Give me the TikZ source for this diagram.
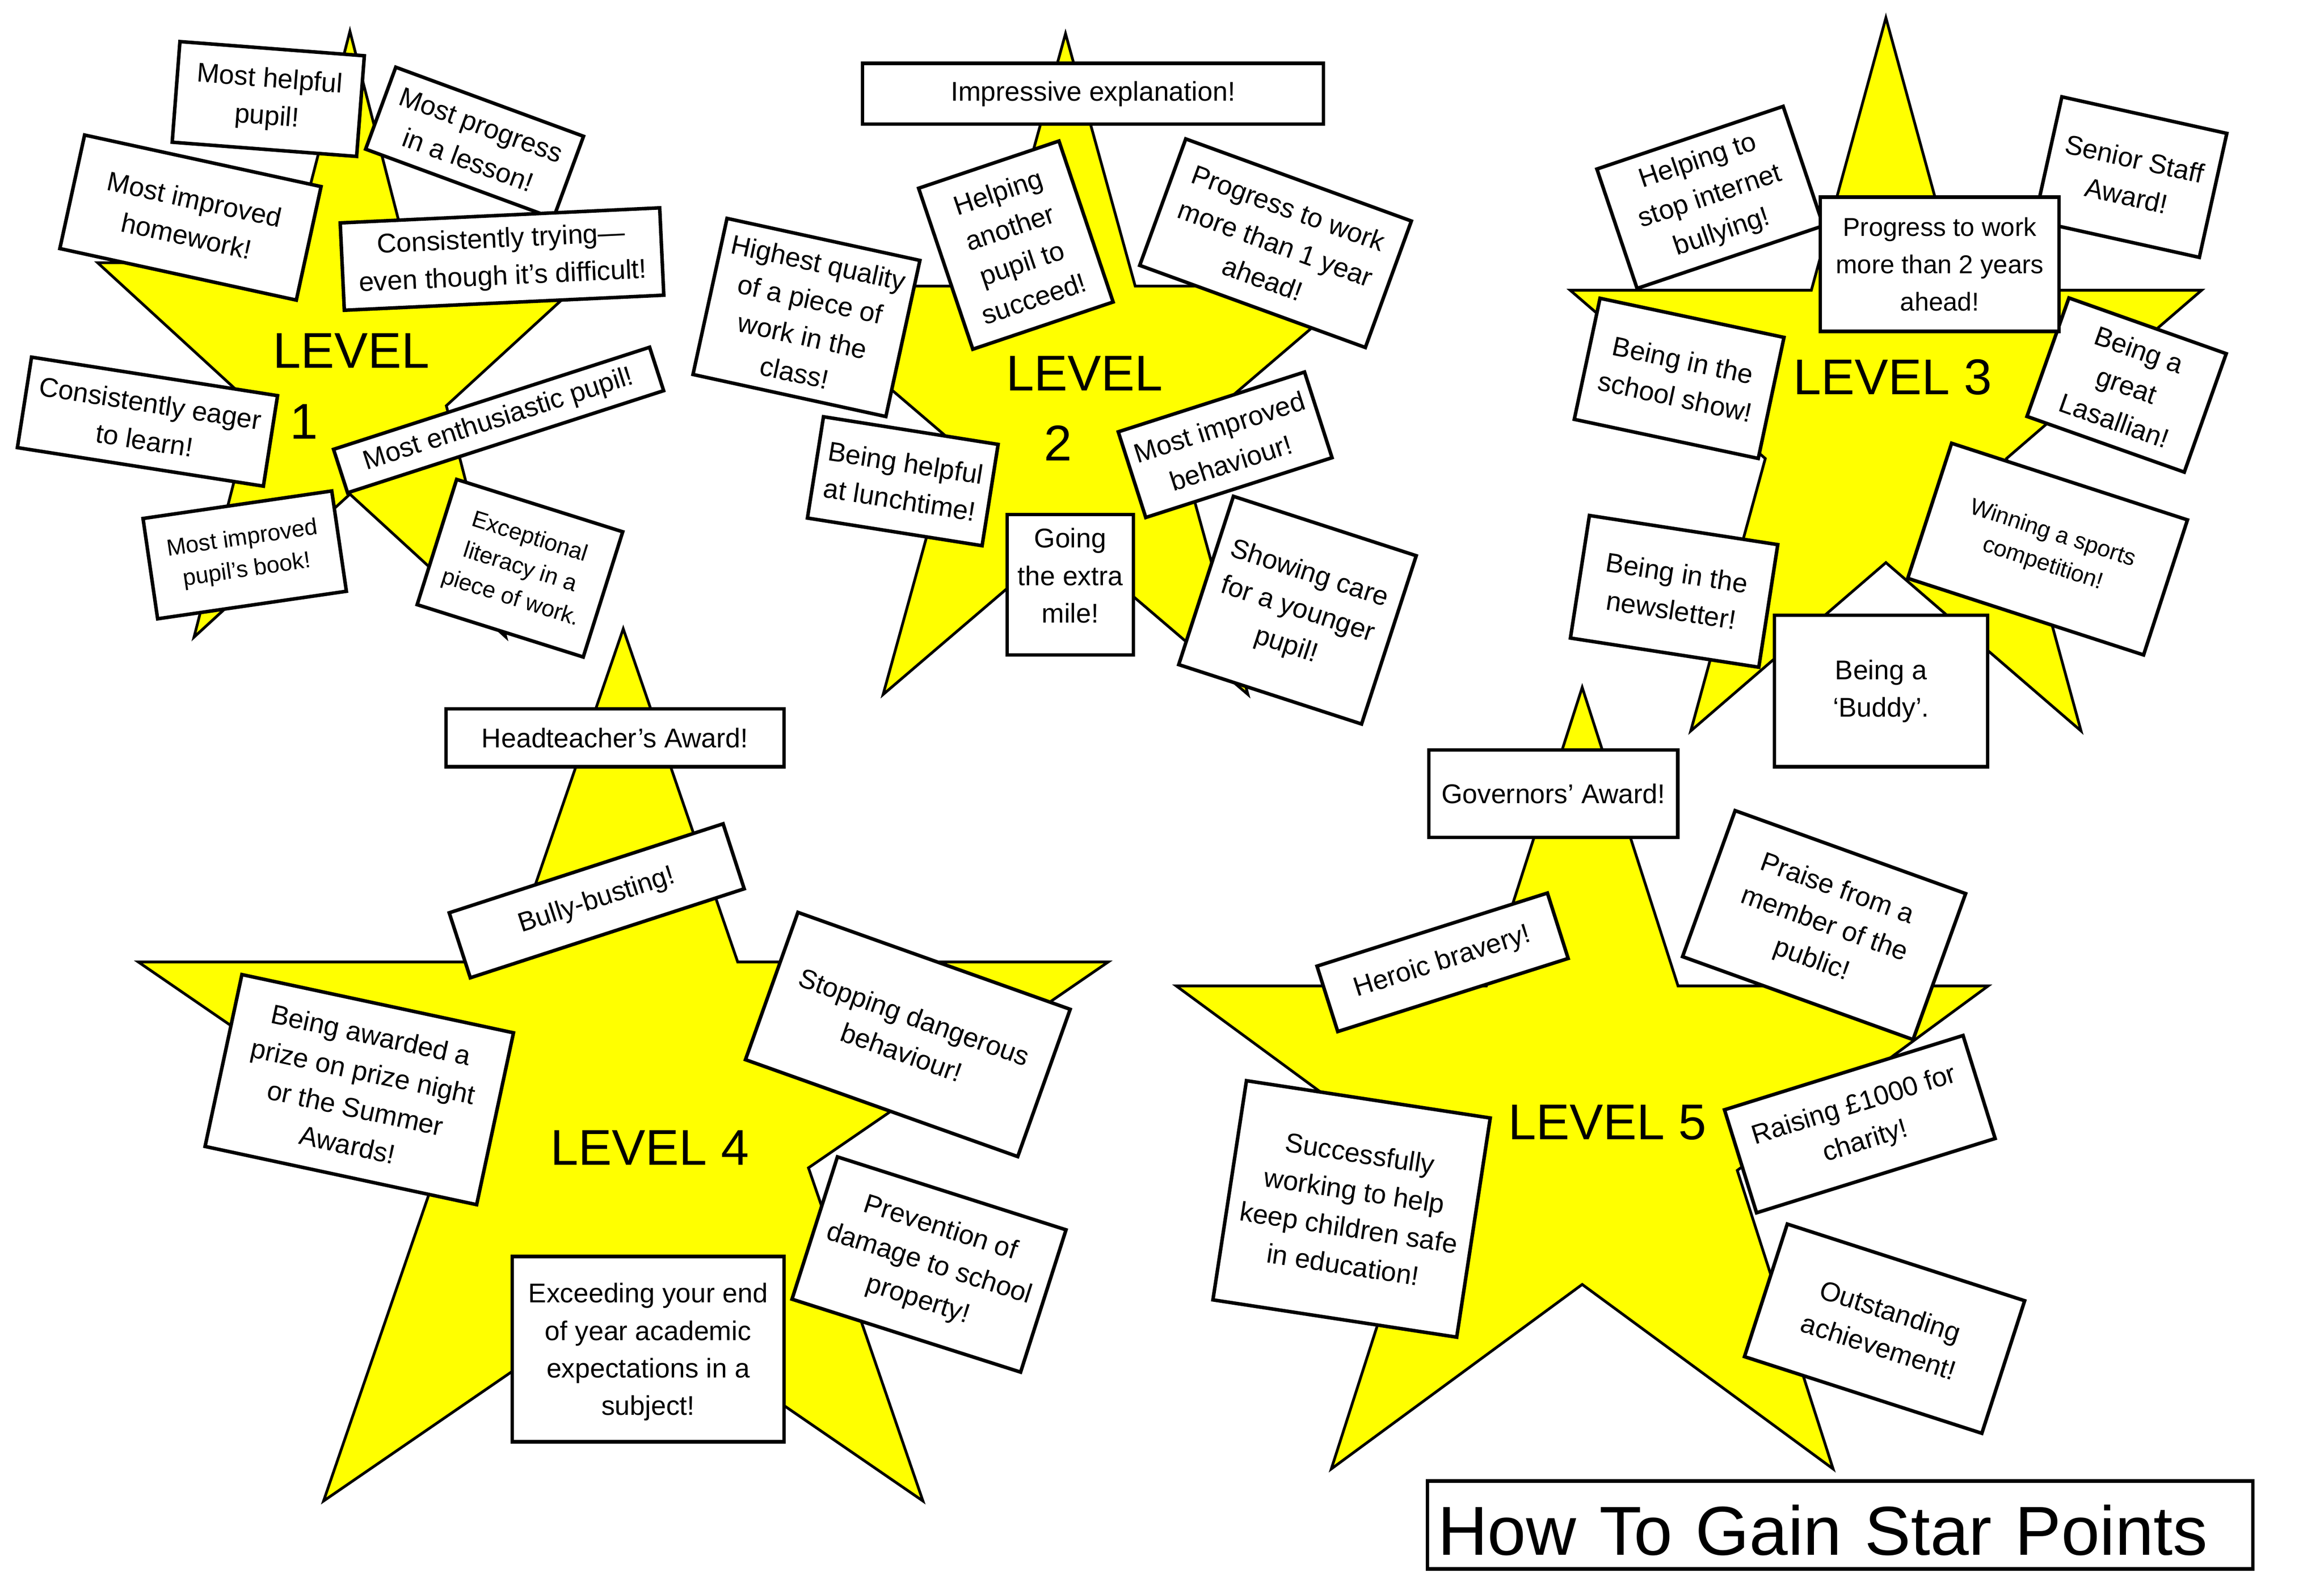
\documentclass[tikz,border=0pt]{standalone}
\usepackage{fontspec}
\setmainfont{Liberation Sans}
\definecolor{starY}{RGB}{255,255,0}
\newcommand{\bxfont}{\fontsize{10.4}{14.4}\selectfont}
\newcommand{\sbxfont}{\fontsize{8.9}{12.2}\selectfont}
\newcommand{\lvfont}{\fontsize{19.3}{23}\selectfont}
\newcommand{\ttlfont}{\fontsize{26.6}{30}\selectfont}
\newcommand{\mystar}[4]{%
  \draw[starshape, shift={(#1,#2)}, xscale=#3, yscale=-#4]
    (0,1) -- (-0.2245,0.3090) -- (-0.9511,0.3090) -- (-0.3633,-0.1180)
    -- (-0.5878,-0.8090) -- (0,-0.382) -- (0.5878,-0.8090) -- (0.3633,-0.1180)
    -- (0.9511,0.3090) -- (0.2245,0.3090) -- cycle;}
\tikzset{
  starshape/.style={fill=starY, draw=black, line width=1.05pt},
  box/.style={draw=black, fill=white, line width=1.35pt, align=center, inner sep=0pt, font=\bxfont},
  smallbox/.style={box, font=\sbxfont},
  sz/.style 2 args={minimum width=#1*0.02cm, minimum height=#2*0.02cm},
  lvl/.style={font=\lvfont, inner sep=0pt},
}
\begin{document}
\begin{tikzpicture}[x=0.02cm, y=-0.02cm]
\fill[white] (0,0) rectangle (1568,1075.5);
\useasboundingbox (0,0) rectangle (1568,1075.5);
% stars
\mystar{236.1}{247.1}{179}{226}
\mystar{718.9}{269.2}{209.4}{246.5}
\mystar{1272.4}{278}{224}{266}
\mystar{420.5}{749.6}{344}{325.3}
\mystar{1067.5}{755.3}{288}{291.5}
% level 1
\node[box, sz={124.8}{68.1}, rotate=-4.4] (a1) at (181.0,66.8) {Most helpful\\pupil!};
\node[box, sz={135}{58.9}, rotate=-20.2] (a2) at (320.2,96.3) {Most progress\\in a lesson!};
\node[box, sz={163.3}{78.4}, rotate=-12.3] (a3) at (128.5,146.8) {Most improved\\homework!};
\node[box, sz={215.8}{59}, rotate=2.7] (a4) at (338.7,174.8) {Consistently trying—\\even though it’s difficult!};
\node[box, sz={168}{61.8}, rotate=-8.9] (a5) at (99.5,284.5) {Consistently eager\\to learn!};
\node[box, sz={224.1}{30.8}, rotate=17.9] (a6) at (336.4,283.4) {Most enthusiastic pupil!};
\node[smallbox, sz={128.7}{68.4}, rotate=8.3] (a7) at (165.1,374.4) {Most improved\\pupil’s book!};
\node[smallbox, sz={117.5}{88.6}, rotate=-17.5] (a8) at (350.8,383.4) {Exceptional\\literacy in a\\piece of work.};
\node[lvl] (l1a) at (236.9,236.6) {LEVEL};
\node[lvl] (l1b) at (205.1,284.5) {1};
% level 2
\node[box, sz={311}{41}] (b1) at (737.5,63.3) {Impressive explanation!};
\node[box, sz={99.9}{114.6}, rotate=18.6] (b2) at (685.4,165.4) {Helping\\another\\pupil to\\succeed!};
\node[box, sz={133.2}{107.8}, rotate=-12.3] (b3) at (544.1,214.2) {Highest quality\\of a piece of\\work in the\\class!};
\node[box, sz={162}{90.8}, rotate=-20] (b4) at (860.6,164.1) {Progress to work\\more than 1 year\\ahead!};
\node[box, sz={119.3}{69.2}, rotate=-9] (b5) at (609.1,324.7) {Being helpful\\at lunchtime!};
\node[box, sz={132}{60.7}, rotate=17.8] (b6) at (826.6,300.1) {Most improved\\behaviour!};
\node[box, sz={85.1}{94.8}, text depth=7pt] (b7) at (722.1,394.5) {Going\\the extra\\mile!};
\node[box, sz={129.7}{119.4}, rotate=-18] (b8) at (875.4,411.7) {Showing care\\for a younger\\pupil!};
\node[lvl] (l2a) at (731.8,252) {LEVEL};
\node[lvl] (l2b) at (713.8,299) {2};
% level 3
\node[box, sz={132.6}{85}, rotate=18.6] (c1) at (1153.8,133.2) {Helping to\\stop internet\\bullying!};
\node[box, sz={114}{85.7}, rotate=-12.5] (c3) at (1437.5,119.5) {Senior Staff\\Award!};
\node[box, sz={112.6}{84.8}, rotate=-19.5] (c5) at (1434.8,259.8) {Being a\\great\\Lasallian!};
\node[box, sz={161.1}{90.6}, font={\fontsize{9.9}{14.4}\selectfont}] (c2) at (1308.7,178.3) {Progress to work\\more than 2 years\\ahead!};
\node[box, sz={126.9}{83.5}, rotate=-12] (c4) at (1132.9,255.3) {Being in the\\school show!};
\node[box, sz={128.6}{83.7}, rotate=-8.8] (c6) at (1129.5,399) {Being in the\\newsletter!};
\node[smallbox, sz={167.3}{95.8}, rotate=-18] (c7) at (1381.5,370.5) {Winning a sports\\competition!};
\node[box, sz={143.9}{102.2}] (c8) at (1269.1,466.3) {Being a\\‘Buddy’.};
\node[lvl] (l3) at (1277,254.4) {LEVEL 3};
% level 4
\node[box, sz={228}{39.1}] (d1) at (414.9,497.8) {Headteacher’s Award!};
\node[box, sz={194.3}{46.1}, rotate=18] (d2) at (402.6,607.8) {Bully-busting!};
\node[box, sz={187.4}{118.6}, rotate=-12.1] (d3) at (242.4,735.2) {Being awarded a\\prize on prize night\\or the Summer\\Awards!};
\node[box, sz={195}{105.5}, rotate=-19.6] (d4) at (612.5,698) {Stopping dangerous\\behaviour!};
\node[box, sz={161.9}{100.8}, rotate=-17.7] (d5) at (626.8,853.2) {Prevention of\\damage to school\\property!};
\node[box, sz={183.3}{125}, text depth=-1pt] (d6) at (437.3,910.3) {Exceeding your end\\of year academic\\expectations in a\\subject!};
\node[lvl] (l4) at (438.4,774.3) {LEVEL 4};
% level 5
\node[box, sz={168}{58.9}] (e1) at (1048,535.5) {Governors’ Award!};
\node[box, sz={163.1}{46.3}, rotate=17.6] (e2) at (973.3,649.3) {Heroic bravery!};
\node[box, sz={165.3}{104.7}, rotate=-19.8] (e3) at (1230.7,624.2) {Praise from a\\member of the\\public!};
\node[box, sz={166.4}{149.6}, rotate=-8.7] (e4) at (911.9,815.7) {Successfully\\working to help\\keep children safe\\in education!};
\node[box, sz={168.6}{72.8}, rotate=17.3] (e5) at (1254.8,758.5) {Raising £1000 for\\charity!};
\node[box, sz={168.3}{94}, rotate=-17.9] (e6) at (1271.5,896.5) {Outstanding\\achievement!};
\node[lvl] (l5) at (1084.5,757.2) {LEVEL 5};
% title
\node[box, sz={557}{59.3}, font=\ttlfont, text width=543*0.02cm, align=left, inner xsep=7*0.02cm, text height=23pt, text depth=0pt] (ttl) at (1241.5,1028.9) {How To Gain Star Points};
\end{tikzpicture}
\end{document}
